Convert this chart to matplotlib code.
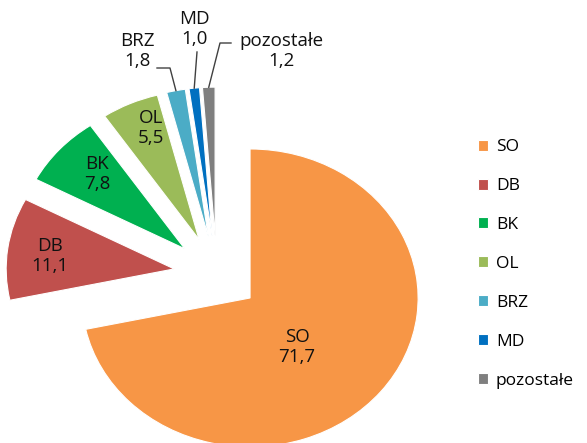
import numpy as np
import matplotlib
matplotlib.use("Agg")
import matplotlib.pyplot as plt

labels = ["SO", "DB", "BK", "OL", "BRZ", "MD", "pozostałe"]
values = [71.7, 11.1, 7.8, 5.5, 1.8, 1.0, 1.2]
colors = ["#F79646", "#C0504D", "#00B050", "#9BBB59", "#4BACC6", "#0070C0", "#7F7F7F"]

W, H = 587, 443
K = 1.128  # pie is a bit wider than tall in the reference
R = 149


def px(x, y):
    # image pixel -> data coords
    return x / K, H - y


plt.rcParams["font.family"] = ["Open Sans", "DejaVu Sans"]
fig = plt.figure(figsize=(W / 100, H / 100), dpi=100)
ax = fig.add_axes([0, 0, 1, 1])

# explode w pie() jest w jednostkach danych
wedges, _ = ax.pie(values, colors=colors, startangle=90, counterclock=False,
                   explode=[38] * len(values), radius=R,
                   center=px(216.7, 274.1),
                   wedgeprops=dict(linewidth=0.8, edgecolor="white"))
ax.set_aspect("auto")
ax.set_xlim(0, W / K)
ax.set_ylim(0, H)
ax.axis("off")

txt = [f"{v:.1f}".replace(".", ",") for v in values]

# etykiety w srodku wycinkow
inner = {0: (297, 347), 1: (50, 256), 2: (97, 174), 3: (151, 128)}
for i, (x, y) in inner.items():
    ax.text(*px(x, y), f"{labels[i]}\n{txt[i]}", ha="center", va="center",
            fontsize=13.5, color="#111111", linespacing=1.2)


def arc_point(w):
    mid = np.deg2rad((w.theta1 + w.theta2) / 2)
    cx, cy = w.center
    return cx + w.r * np.cos(mid), cy + w.r * np.sin(mid)


# etykiety zewnetrzne z liniami
outer = {4: ((137, 51), [(157, 68), (170, 68)]),
         5: ((194, 29), [(197, 52)]),
         6: ((281, 51), [(231, 43), (220, 43)])}
for i, (pos, pts) in outer.items():
    ax.text(*px(*pos), f"{labels[i]}\n{txt[i]}", ha="center", va="center",
            fontsize=13.5, color="#111111", linespacing=1.2)
    ax_pt = arc_point(wedges[i])
    xs = [px(*p)[0] for p in pts] + [ax_pt[0]]
    ys = [px(*p)[1] for p in pts] + [ax_pt[1]]
    ax.plot(xs, ys, color="#404040", lw=1)

ax.legend(wedges, labels, loc="center left", bbox_to_anchor=(462 / W, 1 - 264 / H),
          bbox_transform=fig.transFigure, frameon=False, fontsize=12.5,
          handlelength=0.6, handleheight=0.6, handletextpad=0.45, labelspacing=1.32)

fig.savefig("out.png", dpi=100)
